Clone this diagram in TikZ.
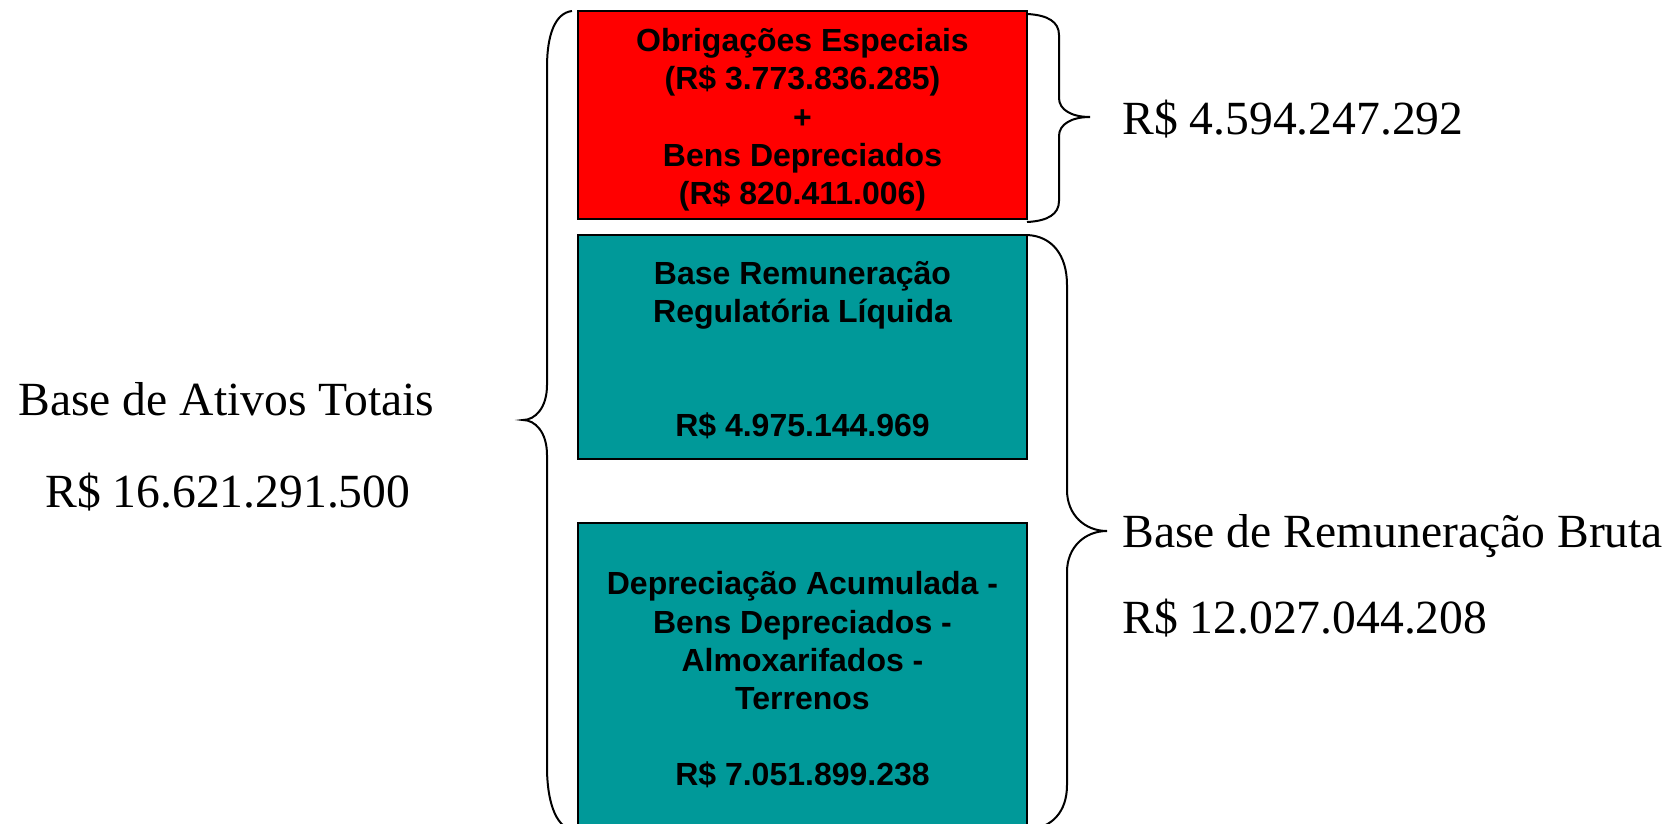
\documentclass[tikz,border=0pt]{standalone}
\usepackage{fontspec}
\setmainfont{Liberation Serif}
\newfontfamily\boxfont{Liberation Sans}
\definecolor{boxred}{HTML}{FF0000}
\definecolor{boxteal}{HTML}{009999}
\tikzset{
  blockbox/.style={draw=black, line width=0.75pt, rectangle, minimum width=224.5pt, inner sep=0pt},
  blocktext/.style={inner sep=0pt, align=center,
    font=\boxfont\bfseries\fontsize{16}{19.1}\selectfont},
  label/.style={anchor=base west, inner sep=0pt, font=\fontsize{23.8}{28}\selectfont},
  bracepath/.style={draw=black, line width=1pt}
}
\begin{document}
\begin{tikzpicture}[x=0.5pt, y=-0.5pt]
\useasboundingbox (0,0) rectangle (1675,824);
\node[blockbox, fill=boxred, minimum height=104pt] (red) at (802.5,115) {};
\node[blocktext, yshift=-2.4pt] (redtxt) at (red.center)
  {Obrigações Especiais\\(R\$ 3.773.836.285)\\+\\Bens Depreciados\\(R\$ 820.411.006)};
\node[blockbox, fill=boxteal, minimum height=112pt] (liq) at (802.5,347) {};
\node[blocktext, yshift=-1.6pt] (liqtxt) at (liq.center)
  {Base Remuneração\\Regulatória Líquida\\[38pt]R\$ 4.975.144.969};
\node[blockbox, fill=boxteal, minimum height=154.5pt] (dep) at (802.5,677.5) {};
\node[blocktext, yshift=-1pt] (deptxt) at (dep.center)
  {Depreciação Acumulada -\\Bens Depreciados -\\Almoxarifados -\\Terrenos\\[18.7pt]R\$ 7.051.899.238};
% left brace
\draw[bracepath] (572,11) .. controls (555,13) and (547,35) .. (547,67)
  -- (547,385) .. controls (547,408) and (535,420) .. (523,420)
  .. controls (535,420) and (547,432) .. (547,455)
  -- (547,767) .. controls (547,800) and (555,826) .. (572,830);
% top right brace
\draw[bracepath] (1027,14) .. controls (1048,15) and (1059,22) .. (1059,35)
  -- (1059,98) .. controls (1059,110) and (1072,117) .. (1090,117)
  .. controls (1072,117) and (1059,124) .. (1059,136)
  -- (1059,201) .. controls (1059,214) and (1048,221) .. (1027,222);
% bottom right brace
\draw[bracepath] (1027,235) .. controls (1052,236) and (1067,255) .. (1067,285)
  -- (1067,490) .. controls (1067,515) and (1085,531) .. (1107,531)
  .. controls (1085,531) and (1067,547) .. (1067,572)
  -- (1067,785) .. controls (1067,812) and (1052,828) .. (1027,830);
\node[label] (tot1) at (18,415) {Base de Ativos Totais};
\node[label] (tot2) at (45,507) {R\$ 16.621.291.500};
\node[label] (top) at (1122,134) {R\$ 4.594.247.292};
\node[label] (bru1) at (1122,547) {Base de Remuneração Bruta};
\node[label] (bru2) at (1122,633) {R\$ 12.027.044.208};
\end{tikzpicture}
\end{document}
